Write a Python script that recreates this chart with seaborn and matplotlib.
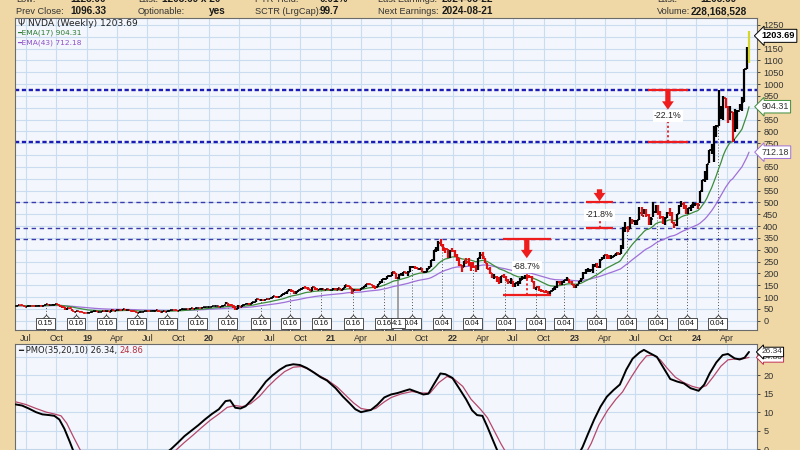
import numpy as np
import pandas as pd
import matplotlib
matplotlib.use("Agg")
import matplotlib.pyplot as plt
import matplotlib.dates as mdates
import matplotlib.transforms as mtransforms
import seaborn as sns

# ---------------- data (weekly NVDA) ----------------
closes_2018 = [63.1, 66.3, 65.8, 61.8, 59.2, 62.0, 63.5, 62.7, 62.5, 63.2, 64.2, 61.2, 67.6, 70.2, 67.0, 67.8,
               67.8, 70.3, 66.1, 61.2, 57.6, 49.6, 52.3, 52.0, 41.2, 36.3, 41.0, 39.1, 37.1, 33.4, 33.2]
highs_2018 = [64.0, 66.8, 67.2, 66.0, 61.8, 62.5, 64.0, 64.2, 63.5, 63.8, 65.0, 64.8, 68.0, 70.8, 70.2, 68.5,
              69.0, 70.6, 71.0, 66.0, 62.5, 58.0, 54.0, 54.5, 51.5, 41.5, 41.5, 43.0, 40.5, 37.8, 34.8]
lows_2018 = [61.5, 62.5, 64.5, 61.2, 58.2, 59.5, 61.8, 61.5, 61.0, 61.5, 62.8, 60.5, 61.8, 67.2, 66.0, 65.5,
             66.8, 67.5, 65.5, 59.5, 55.2, 46.5, 47.5, 50.5, 40.0, 35.5, 35.8, 38.5, 36.5, 31.5, 31.2]

closes_2019 = [34.0, 38.0, 39.2, 40.0, 36.0, 37.2, 40.5, 39.5, 39.5, 37.5, 44.0, 43.2, 45.0, 47.2, 46.5, 47.8,
               44.5, 45.2, 42.0, 39.8, 37.0, 33.8, 36.2, 36.5, 40.0, 41.0, 40.5, 42.0, 43.0, 44.5, 39.2, 37.0,
               39.5, 39.0, 42.0, 44.5, 45.8, 44.2, 42.5, 44.0, 47.8, 47.8, 51.0, 50.8, 52.5, 51.8, 52.5, 54.2,
               53.5, 56.5, 58.8, 59.5]
highs_2019 = [35.0, 38.5, 39.8, 40.5, 40.0, 37.8, 40.8, 40.8, 40.2, 39.8, 44.5, 44.8, 45.5, 47.5, 47.5, 48.2,
              48.0, 46.0, 45.2, 42.0, 40.0, 37.2, 37.0, 37.5, 40.5, 41.2, 41.5, 42.2, 43.5, 45.0, 45.0, 39.8,
              40.2, 40.5, 42.2, 45.0, 46.5, 46.2, 44.5, 44.2, 48.0, 49.0, 51.2, 51.5, 52.8, 53.0, 53.0, 54.5,
              54.5, 56.8, 59.2, 60.0]
lows_2019 = [32.0, 34.5, 37.2, 38.5, 35.0, 35.5, 36.8, 39.0, 38.5, 37.0, 37.2, 42.5, 42.0, 45.0, 45.5, 46.2,
             44.2, 43.5, 41.0, 38.5, 36.5, 33.5, 33.0, 35.5, 36.5, 39.8, 39.8, 40.2, 41.8, 42.8, 38.2, 36.0,
             36.5, 38.0, 38.5, 42.2, 44.0, 43.8, 41.5, 42.0, 43.8, 46.8, 47.5, 49.8, 50.2, 51.0, 50.5, 52.2,
             52.2, 53.2, 56.0, 58.5]

closes_2020 = [59.8, 62.5, 62.8, 63.0, 59.2, 63.0, 67.8, 73.5, 67.0, 65.8, 60.5, 49.8, 63.5, 58.2, 66.8, 71.2,
               71.5, 70.2, 77.8, 80.2, 90.2, 88.8, 88.8, 87.5, 92.2, 91.5, 96.2, 103.8, 102.0, 101.2, 106.2,
               111.8, 115.5, 126.8, 131.2, 126.2, 121.5, 121.8, 128.2, 136.2, 140.2, 138.8, 135.0, 125.2,
               140.8, 135.8, 131.5, 134.2, 134.2, 131.8, 133.0, 129.8, 130.5]
highs_2020 = [60.2, 63.0, 63.2, 63.5, 63.0, 63.5, 68.0, 79.0, 73.0, 69.5, 67.0, 61.2, 65.0, 63.8, 67.0, 72.2,
              74.0, 73.5, 78.2, 81.0, 92.5, 91.5, 90.0, 89.5, 92.8, 94.5, 96.5, 105.0, 106.0, 103.5, 106.5,
              114.0, 116.5, 127.0, 136.0, 134.5, 127.0, 127.5, 129.0, 139.0, 143.0, 148.0, 142.0, 136.0,
              142.0, 141.0, 137.0, 136.0, 136.5, 135.5, 134.0, 134.0, 132.0]
lows_2020 = [58.5, 59.0, 61.0, 61.5, 58.5, 59.5, 63.5, 72.5, 64.0, 60.5, 55.0, 45.0, 50.0, 56.5, 58.5, 66.0,
             69.5, 68.5, 69.5, 76.5, 80.0, 86.5, 84.5, 85.0, 86.5, 89.5, 90.5, 95.0, 99.0, 96.5, 99.5,
             106.0, 110.0, 115.0, 124.0, 120.0, 115.0, 115.0, 120.0, 129.0, 135.0, 137.0, 132.0, 124.0,
             127.0, 130.5, 130.0, 130.5, 130.0, 128.5, 130.0, 128.0, 128.5]

closes_2021 = [133.0, 130.0, 137.0, 130.0, 137.5, 149.0, 148.0, 137.0, 124.5, 131.5, 130.5, 128.0, 138.0, 145.0,
               156.0, 153.5, 150.0, 147.5, 142.0, 155.0, 162.0, 175.0, 178.0, 188.0, 191.0, 204.0, 200.0,
               181.5, 195.0, 195.0, 205.0, 200.5, 208.0, 226.0, 228.0, 222.0, 219.0, 221.0, 207.0, 208.0,
               219.0, 227.0, 255.7, 297.5, 303.0, 329.8, 315.0, 306.0, 302.0, 277.0, 296.0, 294.0]
highs_2021 = [137.0, 137.0, 140.0, 138.5, 138.0, 152.0, 153.0, 148.0, 138.0, 134.5, 136.0, 134.0, 139.0, 146.0,
              157.0, 157.5, 157.0, 153.0, 148.0, 157.0, 166.0, 177.0, 181.0, 190.0, 194.0, 207.0, 208.8,
              201.0, 196.0, 202.0, 206.0, 206.0, 209.0, 230.0, 231.0, 230.0, 226.0, 223.0, 222.0, 212.0,
              221.0, 230.0, 258.0, 299.0, 311.0, 337.5, 346.5, 324.0, 309.0, 302.0, 297.0, 307.0]
lows_2021 = [128.5, 129.0, 129.5, 129.0, 130.5, 137.0, 144.0, 133.0, 115.0, 125.5, 127.0, 125.5, 128.0, 137.0,
             144.0, 150.0, 149.0, 139.0, 135.0, 142.0, 155.0, 160.0, 173.0, 177.0, 183.0, 190.0, 196.0,
             178.0, 177.0, 193.0, 191.0, 198.0, 188.0, 206.0, 221.0, 220.0, 217.0, 214.0, 206.0, 201.0,
             205.0, 217.0, 227.0, 254.0, 290.0, 296.0, 314.0, 295.0, 285.0, 266.0, 265.0, 292.0]

closes_2022 = [272, 265, 234, 229, 251, 249, 246, 241, 229, 221, 264, 276, 268, 243, 218, 201, 185, 187, 179,
               166, 188, 187, 170, 163, 171, 146, 158, 158, 174, 181, 191, 188, 187, 163, 137, 143, 131, 125,
               121, 120, 113, 125, 138, 141, 163, 154, 165, 171, 175, 165, 153, 146]
highs_2022 = [300, 280, 267, 237, 254, 265, 264, 249, 247, 237, 266, 290, 289, 267, 242, 227, 203, 198, 190,
              187, 189, 196, 190, 178, 179, 170, 161, 170, 179, 188, 192, 192, 193, 188, 166, 144, 146, 136,
              132, 129, 125, 126, 140, 148, 169, 169, 166, 172, 183, 178, 167, 155]
lows_2022 = [268, 253, 233, 208, 226, 239, 231, 210, 225, 208, 214, 262, 262, 242, 217, 197, 181, 175, 162,
             155, 160, 182, 169, 155, 157, 144, 141, 145, 155, 171, 175, 176, 180, 162, 136, 132, 126, 123,
             120, 118, 108, 112, 124, 130, 137, 151, 152, 159, 168, 160, 150, 140]

closes_2023 = [149, 169, 178, 203, 211, 213, 214, 233, 238, 229, 257, 267, 278, 270, 267, 271, 278, 287, 283,
               312, 389, 393, 388, 427, 422, 423, 425, 455, 443, 467, 447, 409, 432, 460, 485, 455, 439, 416,
               435, 457, 454, 413, 405, 450, 483, 492, 478, 467, 475, 488, 489, 495]
highs_2023 = [150, 170, 180, 204, 217, 223, 220, 238, 241, 246, 263, 268, 278, 281, 277, 278, 278, 288, 289,
              321, 394, 419, 400, 439, 430, 426, 426, 481, 480, 474, 474, 451, 440, 502, 487, 489, 464, 442,
              440, 459, 476, 460, 418, 450, 487, 505, 500, 490, 477, 491, 500, 499]
lows_2023 = [140, 155, 165, 176, 199, 207, 205, 203, 227, 222, 224, 256, 260, 259, 261, 262, 268, 272, 277,
             281, 305, 373, 374, 387, 410, 403, 405, 426, 441, 451, 438, 403, 404, 437, 456, 446, 431, 409,
             405, 434, 444, 411, 393, 401, 450, 482, 474, 452, 450, 464, 478, 485]

closes_2024 = [490, 547, 595, 610, 662, 721, 726, 788, 823, 875, 879, 943, 903, 880, 881, 762, 877, 888, 898,
               925, 1064, 1096.33, 1203.69]
highs_2024 = [496, 549, 596, 634, 664, 721, 746, 823, 825, 974, 909, 950, 943, 906, 907, 883, 893, 892, 916,
              946, 1064, 1158, 1226]
lows_2024 = [473, 496, 545, 588, 594, 668, 704, 671, 777, 823, 854, 850, 898, 837, 848, 756, 797, 812, 889,
             885, 924, 1062, 1090]

closes = closes_2018 + closes_2019 + closes_2020 + closes_2021 + closes_2022 + closes_2023 + closes_2024
highs = highs_2018 + highs_2019 + highs_2020 + highs_2021 + highs_2022 + highs_2023 + highs_2024
lows = lows_2018 + lows_2019 + lows_2020 + lows_2021 + lows_2022 + lows_2023 + lows_2024
first_week = "2018-06-01"

last_price = 1203.69
ema17_last = 904.31
ema43_last = 712.18

# horizontal support / resistance levels
levels = [974.00, 756.06, 502.66, 392.30, 346.47]
levels_heavy = [True, True, False, False, False]

# decline measurements
measure_centers = ["2022-08-11", "2023-03-17", "2023-10-08"]
measure_halfwidth_days = [72, 40, 60]
measure_tops = [346.47, 502.66, 974.00]
measure_bottoms = [108.13, 392.30, 756.06]
measure_labels = ["-68.7%", "-21.8%", "-22.1%"]
measure_arrow_above = [False, True, False]

# dividends and split
div_dates = ["2018-08-30", "2018-11-29", "2019-02-28", "2019-05-30", "2019-08-29", "2019-11-27",
             "2020-02-27", "2020-06-04", "2020-09-01", "2020-12-03", "2021-03-09", "2021-06-09",
             "2021-08-31", "2021-11-30", "2022-03-02", "2022-06-08", "2022-09-07", "2022-11-30",
             "2023-03-07", "2023-06-07", "2023-09-06", "2023-12-05", "2024-03-05"]
div_labels = ["0.15"] + ["0.16"] * 11 + ["0.04"] * 11
split_date = "2021-07-20"
split_label = "4:1"

# PMO(35,20,10) line
pmo_dates = ["2018-06-01", "2018-06-20", "2018-07-10", "2018-08-01", "2018-08-20", "2018-09-10", "2018-09-25",
             "2018-10-10", "2018-10-25", "2018-11-10", "2018-11-25", "2018-12-15", "2019-02-15", "2019-05-15",
             "2019-08-20", "2019-09-10", "2019-10-01", "2019-10-20", "2019-11-10", "2019-12-01", "2019-12-20",
             "2020-01-10", "2020-01-31", "2020-02-20", "2020-03-05", "2020-03-20", "2020-04-05", "2020-04-20",
             "2020-05-10", "2020-06-01", "2020-06-20", "2020-07-10", "2020-07-31", "2020-08-20", "2020-09-10",
             "2020-09-30", "2020-10-20", "2020-11-10", "2020-12-01", "2020-12-20", "2021-01-15", "2021-02-05",
             "2021-02-25", "2021-03-15", "2021-04-01", "2021-04-15", "2021-05-01", "2021-05-20", "2021-06-10",
             "2021-06-30", "2021-07-20", "2021-08-10", "2021-08-25", "2021-09-15", "2021-10-05", "2021-10-20",
             "2021-11-05", "2021-11-25", "2021-12-10", "2021-12-31", "2022-01-20", "2022-02-10", "2022-02-28",
             "2022-03-15", "2022-03-31", "2022-04-15", "2022-05-01", "2022-05-15", "2022-08-01", "2022-11-01",
             "2023-01-10", "2023-01-25", "2023-02-10", "2023-03-01", "2023-03-20", "2023-04-08", "2023-04-28",
             "2023-05-17", "2023-06-05", "2023-06-24", "2023-07-15", "2023-07-28", "2023-08-15", "2023-09-05",
             "2023-09-25", "2023-10-15", "2023-11-05", "2023-11-25", "2023-12-15", "2024-01-08", "2024-01-25",
             "2024-02-10", "2024-03-01", "2024-03-20", "2024-04-05", "2024-04-25", "2024-05-10", "2024-05-25",
             "2024-06-07"]
pmo_values = [12.1, 11.8, 11.0, 10.0, 9.4, 9.2, 9.0, 8.0, 5.5, 2.0, -1.5, -5.0, -10.0, -7.0,
              -1.5, 0.0, 1.8, 3.5, 5.0, 6.5, 8.0,
              9.5, 10.8, 13.0, 13.2, 11.2, 11.0, 11.6,
              13.5, 16.0, 18.3, 20.0, 21.5, 22.6, 23.0,
              22.8, 22.0, 20.8, 19.5, 18.6, 16.5, 14.3,
              12.5, 10.8, 10.0, 10.3, 10.6, 12.0, 14.0,
              14.8, 15.2, 15.8, 16.2, 15.5, 14.8, 15.0,
              17.5, 20.5, 20.3, 19.3, 16.5, 13.5, 10.5,
              9.2, 9.0, 6.0, 2.5, -0.5, -9.0, -10.0,
              -2.0, 0.5, 4.0, 8.0, 11.5, 14.2, 16.0,
              17.5, 21.5, 24.5, 26.2, 26.9, 26.0, 25.0,
              22.0, 19.0, 18.3, 17.8, 16.5, 15.8, 17.5,
              20.5, 23.5, 25.5, 25.8, 24.6, 24.3, 24.8,
              26.34]
# signal line (10-period EMA of PMO)
sig_dates = ["2018-06-01", "2018-07-01", "2018-08-01", "2018-09-01", "2018-09-25", "2018-10-15", "2018-11-01",
             "2018-11-20", "2018-12-10", "2019-01-01", "2019-04-01", "2019-07-01", "2019-09-01", "2019-09-28",
             "2019-10-20", "2019-11-15", "2019-12-10", "2020-01-05", "2020-01-31", "2020-02-25", "2020-03-20",
             "2020-04-10", "2020-05-05", "2020-06-01", "2020-06-25", "2020-07-20", "2020-08-15", "2020-09-10",
             "2020-10-05", "2020-10-30", "2020-11-25", "2020-12-20", "2021-01-20", "2021-02-15", "2021-03-10",
             "2021-04-01", "2021-04-25", "2021-05-15", "2021-06-10", "2021-07-01", "2021-08-01", "2021-09-01",
             "2021-10-01", "2021-10-25", "2021-11-20", "2021-12-15", "2022-01-05", "2022-01-31", "2022-02-25",
             "2022-03-25", "2022-04-15", "2022-05-05", "2022-05-25", "2022-06-10", "2022-09-01", "2022-12-01",
             "2023-02-05", "2023-02-20", "2023-03-15", "2023-04-10", "2023-05-05", "2023-05-25", "2023-06-20",
             "2023-07-15", "2023-08-05", "2023-08-25", "2023-09-15", "2023-10-05", "2023-10-30", "2023-11-25",
             "2023-12-20", "2024-01-10", "2024-01-31", "2024-02-20", "2024-03-15", "2024-04-05", "2024-04-30",
             "2024-05-20", "2024-06-07"]
sig_values = [12.8, 12.1, 11.0, 10.0, 9.5, 9.0, 7.0,
              3.5, 0.0, -4.0, -10.0, -7.0, -2.5, 0.0,
              1.8, 3.8, 5.8, 7.8, 9.5, 11.3, 11.8,
              11.5, 12.3, 14.3, 16.8, 19.0, 21.0, 22.2,
              22.4, 21.5, 20.0, 18.8, 16.8, 14.5, 12.5,
              11.0, 10.6, 11.0, 12.8, 14.0, 15.0, 15.6,
              15.2, 15.2, 18.0, 19.7, 19.0, 17.0, 13.5,
              10.8, 8.5, 5.0, 1.5, -1.0, -10.0, -10.0,
              -1.0, 1.5, 6.5, 10.5, 13.5, 15.5, 19.5,
              23.0, 25.3, 25.5, 24.2, 22.0, 19.5, 18.0,
              17.0, 16.5, 17.2, 19.5, 22.5, 24.2, 24.5,
              24.5, 24.86]
pmo_last = 26.34
sig_last = 24.86

quarter_labels = ["Jul", "Oct", "19", "Apr", "Jul", "Oct", "20", "Apr", "Jul", "Oct", "21", "Apr", "Jul", "Oct",
                  "22", "Apr", "Jul", "Oct", "23", "Apr", "Jul", "Oct", "24", "Apr"]

header_row1 = [("Low:", 16, False), ("1123.00", 70, True), ("Last:", 138, False), ("1203.69 x 20", 162, True),
               ("PTR Yield:", 255, False), ("0.01%", 320, True), ("Last Earnings:", 378, False),
               ("2024-05-22", 442, True), ("Last:", 657, False), ("1203.69", 700, True)]
header_row2 = [("Prev Close:", 16, False), ("1096.33", 70, True), ("Optionable:", 138, False),
               ("yes", 209, True), ("SCTR (LrgCap):", 255, False), ("99.7", 320, True),
               ("Next Earnings:", 378, False), ("2024-08-21", 442, True), ("Volume:", 657, False),
               ("228,168,528", 691, True)]

# ---------------- styling ----------------
sns.set_style("white")
plt.rcParams["font.family"] = ["Liberation Sans", "DejaVu Sans"]

TAN = "#EFD8A6"
PLOT_BG = "#F3F6FC"
GRID = "#C9DCF0"
RED = "#EE1C1C"
NARROW = ["Liberation Sans Narrow", "Liberation Sans", "DejaVu Sans"]

W, H = 800, 450
fig = plt.figure(figsize=(8, 4.5), dpi=100, facecolor=TAN)


def fbox(l, t, r, b):
    return [l / W, 1 - b / H, (r - l) / W, (b - t) / H]


ax = fig.add_axes(fbox(15, 18, 757, 330), facecolor=PLOT_BG)
ax2 = fig.add_axes(fbox(15, 344, 757, 450), facecolor=PLOT_BG)

week_dates = pd.date_range(first_week, periods=len(closes), freq="W-FRI")
df = pd.DataFrame({"date": week_dates, "close": closes, "high": highs, "low": lows})
df["ema17"] = df["close"].ewm(span=17, adjust=False).mean()
df["ema43"] = df["close"].ewm(span=43, adjust=False).mean()

xmin, xmax = pd.Timestamp("2018-05-30"), pd.Timestamp("2024-07-01")
qticks = pd.date_range("2018-07-01", "2024-04-01", freq="QS")

for a in (ax, ax2):
    a.set_xlim(xmin, xmax)
    for q in qticks:
        a.axvline(q, color=GRID, lw=0.8, zorder=0)
    for s in a.spines.values():
        s.set_color("#6b6b6b")
        s.set_linewidth(0.8)

# ---- main panel
ax.set_ylim(-39, 1279)
for v in range(0, 1300, 50):
    ax.axhline(v, color=GRID, lw=0.8, zorder=0)

for lvl, heavy in zip(levels, levels_heavy):
    if heavy:
        ax.axhline(lvl, color="#1C1CB4", lw=1.7, dashes=(1.8, 1.1), zorder=2)
    else:
        ax.axhline(lvl, color="#3A3AAA", lw=1.0, dashes=(3.2, 2.6), zorder=2)

# dividend / split markers
mark_y = -10
for d, lab in zip(div_dates, div_labels):
    dt = pd.Timestamp(d)
    i = min(week_dates.searchsorted(dt), len(closes) - 1)
    ax.vlines(dt, mark_y, lows[i], colors="#555555", lw=0.7, linestyles=(0, (1, 2)), zorder=1)
    ax.scatter([dt], [mark_y], marker="D", s=70, facecolor="white", edgecolor="#333333", lw=0.6, zorder=5)
    ax.text(dt, mark_y, lab, ha="center", va="center", fontsize=5.6, color="#111111", family=NARROW,
            zorder=6, bbox=dict(boxstyle="square,pad=0.25", fc="white", ec="#333333", lw=0.6))
sd = pd.Timestamp(split_date)
si = week_dates.searchsorted(sd)
ax.vlines(sd, mark_y, lows[si], colors="#8a8a8a", lw=1.1, zorder=1)
ax.text(sd, mark_y, split_label, ha="center", va="center", fontsize=5.6, color="#111111", family=NARROW,
        zorder=6, bbox=dict(boxstyle="square,pad=0.2", fc="white", ec="#333333", lw=0.6))

# EMAs
sns.lineplot(data=df, x="date", y="ema43", ax=ax, color="#A070D8", lw=0.9, legend=False, zorder=3)
sns.lineplot(data=df, x="date", y="ema17", ax=ax, color="#3C8C3C", lw=0.9, legend=False, zorder=3)

# price bars
prev = [closes[0]] + closes[:-1]
colors = ["black" if c >= p else "#E01010" for c, p in zip(closes, prev)]
colors[-1] = "#D6D62A"
ax.vlines(week_dates, lows, highs, colors=colors, lw=1.6, zorder=4)
ax.hlines(closes, week_dates, week_dates + pd.Timedelta(days=4), colors=colors, lw=1.1, zorder=4)
ax.hlines(prev, week_dates - pd.Timedelta(days=4), week_dates, colors=colors, lw=1.1, zorder=4)


# decline measurements
def shifted(a, dy_pt):
    return a.transData + mtransforms.ScaledTranslation(0, dy_pt / 72, fig.dpi_scale_trans)


arrow_style = "simple,head_length=0.6,head_width=0.85,tail_width=0.38"
for c, hw, top, bot, lab, above in zip(measure_centers, measure_halfwidth_days, measure_tops,
                                        measure_bottoms, measure_labels, measure_arrow_above):
    cd = pd.Timestamp(c)
    cn = mdates.date2num(cd)
    x0, x1 = cd - pd.Timedelta(days=hw), cd + pd.Timedelta(days=hw)
    ax.hlines([top, bot], x0, x1, colors=RED, lw=1.6, zorder=6)
    mid = (top + bot) / 2
    ax.vlines(cd, bot, mid, colors=RED, lw=1.3, linestyles=(0, (1.2, 1.4)), zorder=6)
    if above:
        tail, tip = 9.0, 0.4
    else:
        tail, tip = -0.4, -14.0
    ax.annotate("", xy=(cn, top), xycoords=shifted(ax, tip), xytext=(cn, top), textcoords=shifted(ax, tail),
                arrowprops=dict(arrowstyle=arrow_style, mutation_scale=10, color=RED, lw=0,
                                shrinkA=0, shrinkB=0), zorder=7)
    ax.text(cd, mid, lab, ha="center", va="center", fontsize=6.3, color="#222222", zorder=8,
            bbox=dict(boxstyle="square,pad=0.15", fc="white", ec="none"))

# right axis ticks (labels hidden where a value flag covers them)
main_flags = [last_price, ema17_last, ema43_last]
main_ticks = list(range(0, 1300, 50))
ax.yaxis.tick_right()
ax.set_yticks(main_ticks)
ax.set_yticklabels(["" if min(abs(v - f) for f in main_flags) < 22 else str(v) for v in main_ticks],
                   family=NARROW, fontsize=6.6, color="#333333")
ax.tick_params(axis="y", length=2.5, width=0.6, pad=2, colors="#333333")
ax.set_xticks(qticks)
ax.set_xticklabels(quarter_labels, fontsize=6.5, color="#333333")
for t in ax.get_xticklabels():
    if t.get_text().isdigit():
        t.set_fontweight("bold")
ax.tick_params(axis="x", length=0, pad=3)
ax.set_xlabel("")
ax.set_ylabel("")

# right value flags
ytr = mtransforms.blended_transform_factory(ax.transAxes, ax.transData)
ax.text(1.006, last_price, f"{last_price:.2f}", transform=ytr, ha="left", va="center", fontsize=6.6,
        fontweight="bold", color="black", family=NARROW, zorder=10, clip_on=False,
        bbox=dict(boxstyle="larrow,pad=0.22", fc="white", ec="black", lw=0.7))
ax.text(1.006, ema17_last, f"{ema17_last:.2f}", transform=ytr, ha="left", va="center", fontsize=6.4,
        color="#333333", family=NARROW, zorder=10, clip_on=False,
        bbox=dict(boxstyle="larrow,pad=0.2", fc="white", ec="#3C8C3C", lw=0.7))
ax.text(1.006, ema43_last, f"{ema43_last:.2f}", transform=ytr, ha="left", va="center", fontsize=6.4,
        color="#333333", family=NARROW, zorder=10, clip_on=False,
        bbox=dict(boxstyle="larrow,pad=0.2", fc="white", ec="#A070D8", lw=0.7))

# legend text
ax.text(0.004, 0.981, "\u03A8 NVDA (Weekly) 1203.69", transform=ax.transAxes, ha="left", va="center",
        fontsize=6.6, color="#222222", family="DejaVu Sans")
ax.text(0.003, 0.952, "\u2501EMA(17) 904.31", transform=ax.transAxes, ha="left", va="center",
        fontsize=5.4, color="#2E7D32", family="DejaVu Sans")
ax.text(0.003, 0.920, "\u2501EMA(43) 712.18", transform=ax.transAxes, ha="left", va="center",
        fontsize=5.4, color="#9050C8", family="DejaVu Sans")

# ---- PMO panel
ax2.set_ylim(-0.27, 28.5)
for v in range(0, 30, 5):
    ax2.axhline(v, color=GRID, lw=0.8, zorder=0)
pmo_df = pd.DataFrame({"date": pd.to_datetime(pmo_dates), "pmo": pmo_values})
sig_df = pd.DataFrame({"date": pd.to_datetime(sig_dates), "sig": sig_values})
sns.lineplot(data=sig_df, x="date", y="sig", ax=ax2, color="#B5476A", lw=0.9, legend=False, zorder=3)
sns.lineplot(data=pmo_df, x="date", y="pmo", ax=ax2, color="black", lw=1.4, legend=False, zorder=4)
ax2.set_xlabel("")
ax2.set_ylabel("")
ax2.set_xticks(qticks)
ax2.set_xticklabels([])
ax2.tick_params(axis="x", length=0)
pmo_ticks = list(range(0, 30, 5))
ax2.yaxis.tick_right()
ax2.set_yticks(pmo_ticks)
ax2.set_yticklabels(["" if min(abs(v - f) for f in (pmo_last, sig_last)) < 2 else str(v) for v in pmo_ticks],
                    family=NARROW, fontsize=6.6, color="#333333")
ax2.tick_params(axis="y", length=2.5, width=0.6, pad=2, colors="#333333")
ytr2 = mtransforms.blended_transform_factory(ax2.transAxes, ax2.transData)
ax2.text(1.006, sig_last, f"{sig_last:.2f}", transform=ytr2, ha="left", va="center", fontsize=6.0,
         color="#333333", family=NARROW, zorder=10, clip_on=False,
         bbox=dict(boxstyle="larrow,pad=0.15", fc="white", ec="#C03050", lw=0.7))
ax2.text(1.006, pmo_last, f"{pmo_last:.2f}", transform=ytr2, ha="left", va="center", fontsize=6.0,
         color="#333333", family=NARROW, zorder=11, clip_on=False,
         bbox=dict(boxstyle="larrow,pad=0.15", fc="white", ec="black", lw=0.7))
t1 = ax2.text(0.004, 0.94, "\u2501 PMO(35,20,10) 26.34, ", transform=ax2.transAxes, ha="left", va="center",
              fontsize=6.0, color="#222222", family="DejaVu Sans")
fig.canvas.draw()
bb = t1.get_window_extent()
fig.text(bb.x1 / fig.dpi / 8, (bb.y0 + bb.y1) / 2 / fig.dpi / 4.5, "24.86", ha="left", va="center",
         fontsize=6.0, color="#B5303F", family="DejaVu Sans")

# ---- header
for row, ypx in ((header_row1, 2.5), (header_row2, 14.5)):
    for txt, xpx, bold in row:
        fig.text(xpx / W, 1 - ypx / H, txt, ha="left", va="baseline",
                 fontsize=7.2 if bold else 6.6, fontweight="bold" if bold else "normal",
                 color="#1a1a1a" if bold else "#333333")

fig.savefig("out.png", dpi=100, facecolor=TAN)
